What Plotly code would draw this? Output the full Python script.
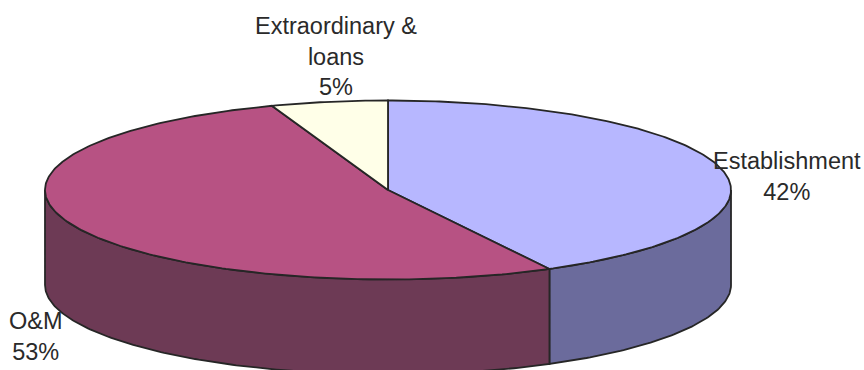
import numpy as np
import plotly.graph_objects as go

categories = ["Establishment", "O&M", "Extraordinary &<br>loans"]
values = [42.2, 52.3, 5.5]
percent_labels = ["42%", "53%", "5%"]
top_colors = ["#B7B7FF", "#B75283", "#FFFFE8"]
side_colors = ["#6B6B9C", "#6D3A55", "#8F8F80"]
label_x = [787, 36, 336]
label_y = [176, 336, 56]

CX, CY, RX, RY, DEPTH = 388, 190, 343, 89.5, 95
EDGE = "#262626"


def ellipse(a0, a1, dy=0):
    """Rim points between two angles (radians clockwise from 12 o'clock)."""
    n = max(2, int(abs(a1 - a0) * 80))
    t = np.linspace(a0, a1, n)
    return CX + RX * np.sin(t), CY + RY * -np.cos(t) + dy


fractions = np.array(values) / sum(values)
edges = np.concatenate([[0], np.cumsum(fractions)]) * 2 * np.pi

fig = go.Figure()


def polygon(x, y, fill):
    fig.add_trace(go.Scatter(
        x=x, y=y, mode="lines", fill="toself", fillcolor=fill,
        line=dict(color=EDGE, width=1.8), hoverinfo="skip", showlegend=False,
    ))


# Side walls: only the front half of the rim (90 deg to 270 deg) is visible
for i in range(len(values)):
    a0 = max(edges[i], np.pi / 2)
    a1 = min(edges[i + 1], 3 * np.pi / 2)
    if a1 <= a0:
        continue
    xt, yt = ellipse(a0, a1)
    xb, yb = ellipse(a1, a0, DEPTH)
    polygon(np.r_[xt, xb, xt[0]], np.r_[yt, yb, yt[0]], side_colors[i])

# Top faces
for i in range(len(values)):
    xt, yt = ellipse(edges[i], edges[i + 1])
    polygon(np.r_[CX, xt, CX], np.r_[CY, yt, CY], top_colors[i])

for name, pct, x, y in zip(categories, percent_labels, label_x, label_y):
    fig.add_annotation(
        x=x, y=y, text=f"{name}<br>{pct}", showarrow=False, align="center",
        xanchor="center", yanchor="middle",
        font=dict(family="Liberation Sans, Arial, sans-serif", size=23.5, color="#2A2A2A"),
    )

fig.update_layout(
    width=864, height=370, autosize=False,
    margin=dict(l=0, r=0, t=0, b=0),
    paper_bgcolor="white", plot_bgcolor="white", showlegend=False,
    xaxis=dict(range=[0, 864], visible=False, fixedrange=True),
    yaxis=dict(range=[370, 0], visible=False, fixedrange=True),
)
fig.write_html(
    "out.html",
    config={"displayModeBar": False},
    post_script="document.body.style.margin='0';document.body.style.overflow='hidden';",
)
